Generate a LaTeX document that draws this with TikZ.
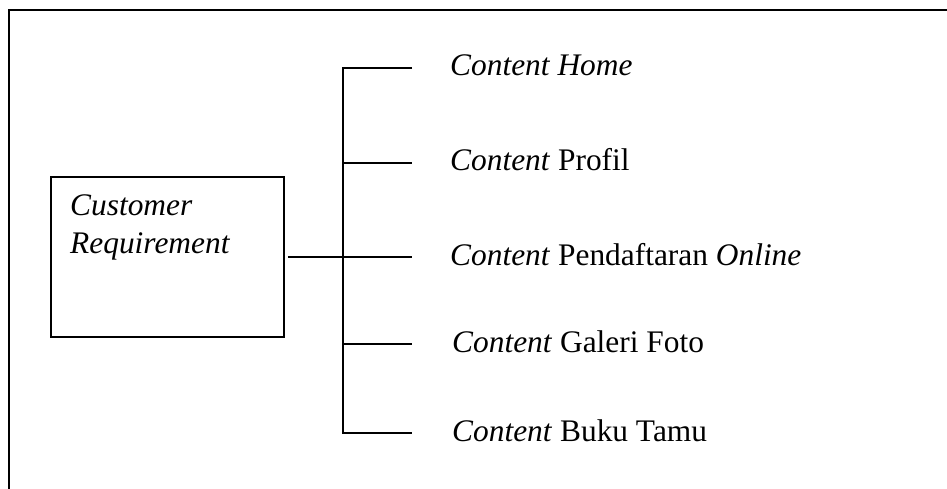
\documentclass[tikz,border=0pt]{standalone}
\usepackage{fontspec}
\setmainfont{Liberation Serif}
\begin{document}
\begin{tikzpicture}[x=1pt,y=-1pt,
  ln/.style={line width=1.8pt,black},
  txt/.style={anchor=base west,inner sep=0pt,font=\fontsize{31.4}{38}\selectfont}]
\useasboundingbox (0,0) rectangle (947,489);
% outer frame (open on right and bottom)
\draw[ln] (947,10) -- (9,10) -- (9,489);
% box
\node[ln,draw,minimum width=233pt,minimum height=160pt,anchor=north west,inner sep=0pt] (cr) at (50,176) {};
\node[txt] (cr1) at (70,215) {\textit{Customer}};
\node[txt] (cr2) at (70,253) {\textit{Requirement}};
% tree coordinates
\coordinate (j1) at (343,68);
\coordinate (j2) at (343,163);
\coordinate (hub) at (343,257);
\coordinate (j4) at (343,344);
\coordinate (j5) at (343,433);
\coordinate (e1) at (412,68);
\coordinate (e2) at (412,163);
\coordinate (e3) at (412,257);
\coordinate (e4) at (412,344);
\coordinate (e5) at (412,433);
% labels
\node[txt] (t1) at (450,76) {\textit{Content Home}};
\node[txt] (t2) at (450,171) {\textit{Content} Profil};
\node[txt] (t3) at (450,265) {\textit{Content} Pendaftaran \textit{Online}};
\node[txt] (t4) at (452,352) {\textit{Content} Galeri Foto};
\node[txt] (t5) at (452,441) {\textit{Content} Buku Tamu};
% connectors
\draw[ln,shorten <=3pt] (cr.east |- hub) -- (hub) -- (e3);
\draw[ln] (e1) -- (j1) -- (j5) -- (e5);
\draw[ln] (j2) -- (e2);
\draw[ln] (j4) -- (e4);
\end{tikzpicture}
\end{document}
